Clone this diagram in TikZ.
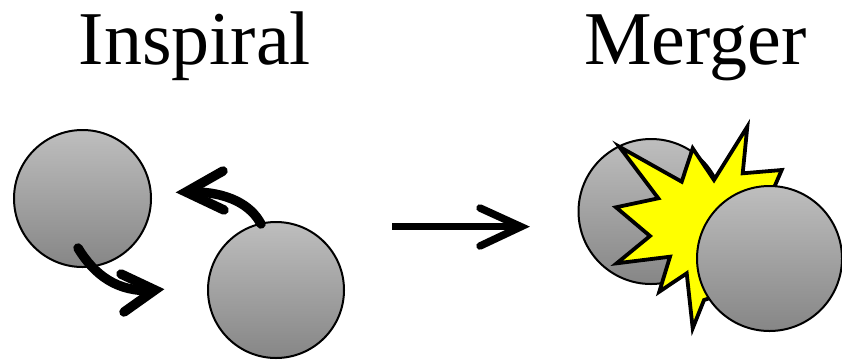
\documentclass[tikz,border=0pt]{standalone}
\usepackage{fontspec}
\setmainfont{Liberation Serif}
\definecolor{bhtop}{RGB}{190,190,190}
\definecolor{bhbot}{RGB}{134,134,134}
\definecolor{flash}{RGB}{255,255,0}
\begin{document}
\begin{tikzpicture}[x=1pt,y=-1pt,
  hole/.style={circle, draw=black, line width=2pt, top color=bhtop, bottom color=bhbot, inner sep=0pt},
  orbit/.style={line width=9.5pt, line cap=round, line join=round},
  chevron/.style={line width=9.5pt, line cap=round, line join=miter},
  title/.style={font=\fontsize{76}{80}\selectfont, anchor=base, inner sep=0pt}]
\useasboundingbox (0,0) rectangle (842,360);

% titles
\node[title] (tInsp) at (195,64) {Inspiral};
\node[title] (tMerg) at (695.5,64) {Merger};

% inspiral pair
\node[hole, minimum size=137pt] (bhA) at (82.5,198.5) {};
\node[hole, minimum size=136pt] (bhB) at (276,290) {};

% orbital motion arrows
\coordinate (oA0) at (78,248);
\coordinate (oA1) at (152,290.5);
\coordinate (oAtip) at (155,290);
\draw[orbit] (oA0) .. controls (95,276) and (118,292) .. (oA1);
\draw[chevron] (121,274) -- (oAtip) -- (124,312);

\coordinate (oB0) at (261,224);
\coordinate (oB1) at (189,191.8);
\coordinate (oBtip) at (186,192);
\draw[orbit] (oB0) .. controls (251,205) and (228,191.5) .. (oB1);
\draw[chevron] (223,171) -- (oBtip) -- (224,210);

% transition arrow
\coordinate (tr0) at (392,226.7);
\coordinate (tr1) at (518,226.7);
\coordinate (trtip) at (521,226.7);
\draw[line width=7.5pt] (tr0) -- (tr1);
\draw[line width=7.5pt, line cap=round, line join=miter] (480,208) -- (trtip) -- (480,246);

% merging pair with flash
\node[hole, minimum size=145pt] (bhC) at (651,211.5) {};
\draw[line width=3.8pt, line join=miter, miter limit=20, fill=flash]
  (619.3,146.7) -- (681.7,181.7) -- (692.7,148.3) -- (714,180) -- (747.3,126.7)
  -- (742.7,173.3) -- (781.7,170) -- (760,220) -- (735,290) -- (704,300)
  -- (692.7,328.3) -- (686.7,273.3) -- (659.3,291.7) -- (670,256.7)
  -- (616.7,263.3) -- (650,236) -- (616,207.3) -- (658.3,198.3) -- cycle;
\node[hole, minimum size=145pt] (bhD) at (769.5,258.5) {};
\end{tikzpicture}
\end{document}
